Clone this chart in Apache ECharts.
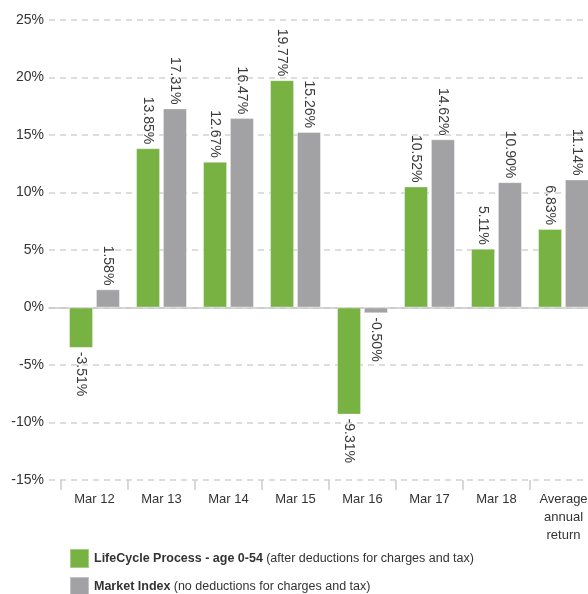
<!DOCTYPE html>
<html>
<head>
<meta charset="utf-8">
<script src="https://cdn.jsdelivr.net/npm/echarts@6/dist/echarts.min.js"></script>
<style>
html,body{margin:0;padding:0;background:#fff;}
#main{width:588px;height:594px;}
</style>
</head>
<body>
<div id="main"></div>
<script>
var categories = ['Mar 12', 'Mar 13', 'Mar 14', 'Mar 15', 'Mar 16', 'Mar 17', 'Mar 18', 'Average\nannual\nreturn'];
var lifeCycle = [-3.51, 13.85, 12.67, 19.77, -9.31, 10.52, 5.11, 6.83];
var marketIndex = [1.58, 17.31, 16.47, 15.26, -0.50, 14.62, 10.90, 11.14];
var yTicks = [-15, 25, 5]; // min, max, interval

var FONT = '"Liberation Sans", Arial, sans-serif';

// 正负值标签方向不同
function barData(list) {
	return list.map(function(v) {
		return {
			value : v,
			label : { align : v < 0 ? 'left' : 'right' }
		};
	});
}

function barSeries(name, list, color) {
	return {
		name : name,
		type : 'bar',
		xAxisIndex : 1,
		yAxisIndex : 1,
		barWidth : 24,
		barGap : '12%',
		itemStyle : { color : color, borderColor : 'rgba(255,255,255,0.35)', borderWidth : 1 },
		label : {
			show : true,
			position : 'outside',
			rotate : -90,
			verticalAlign : 'middle',
			distance : 4,
			color : '#3a3a3a',
			fontFamily : FONT,
			fontSize : 14,
			formatter : function(p) { return p.value.toFixed(2) + '%'; }
		},
		data : barData(list)
	};
}

function legendItem(name, top) {
	return {
		orient : 'vertical',
		left : 64,
		top : top,
		itemWidth : 19,
		itemHeight : 19,
		icon : 'rect',
		data : [name],
		formatter : function(n) {
			if (n == 'LifeCycle') {
				return '{b|LifeCycle Process - age 0-54} {n|(after deductions for charges and tax)}';
			}
			return '{b|Market Index} {n|(no deductions for charges and tax)}';
		},
		textStyle : {
			rich : {
				b : { fontFamily : FONT, fontSize : 12.5, fontWeight : 'bold', color : '#333' },
				n : { fontFamily : FONT, fontSize : 12.5, color : '#333' }
			}
		}
	};
}

var option = {
	animation : false,
	grid : [
		{ left : 49, top : 20, width : 548, height : 460, outerBoundsMode : 'none' },
		{ left : 61, top : 20, width : 536, height : 460, outerBoundsMode : 'none' }
	],
	legend : [
		legendItem('LifeCycle', 543),
		legendItem('Market', 571)
	],
	xAxis : [
		{
			type : 'category',
			gridIndex : 0,
			data : categories,
			axisLine : { show : true, onZero : true, lineStyle : { color : '#c8c8c8', width : 1.5 } },
			axisTick : { show : false },
			axisLabel : { show : false }
		},
		{
			type : 'category',
			gridIndex : 1,
			position : 'bottom',
			data : categories,
			axisLine : { show : false, onZero : false },
			axisTick : { show : true, length : 10, lineStyle : { color : '#cccccc', width : 1.5 } },
			axisLabel : {
				color : '#333',
				fontFamily : FONT,
				fontSize : 13,
				margin : 10,
				lineHeight : 18
			}
		}
	],
	yAxis : [
		{
			type : 'value',
			gridIndex : 0,
			min : yTicks[0],
			max : yTicks[1],
			interval : yTicks[2],
			axisLine : { show : false },
			axisTick : { show : false },
			axisLabel : {
				formatter : '{value}%',
				color : '#333',
				fontFamily : FONT,
				fontSize : 14,
				margin : 5
			},
			splitLine : {
				lineStyle : { color : '#d2d2d2', type : [6, 5], width : 1.5 }
			}
		},
		{
			type : 'value',
			gridIndex : 1,
			min : yTicks[0],
			max : yTicks[1],
			interval : yTicks[2],
			show : false,
			splitLine : { show : false }
		}
	],
	series : [
		barSeries('LifeCycle', lifeCycle, '#77b243'),
		barSeries('Market', marketIndex, '#a2a2a4')
	]
};

var myChart = echarts.init(document.getElementById('main'));
myChart.setOption(option);
</script>
</body>
</html>
